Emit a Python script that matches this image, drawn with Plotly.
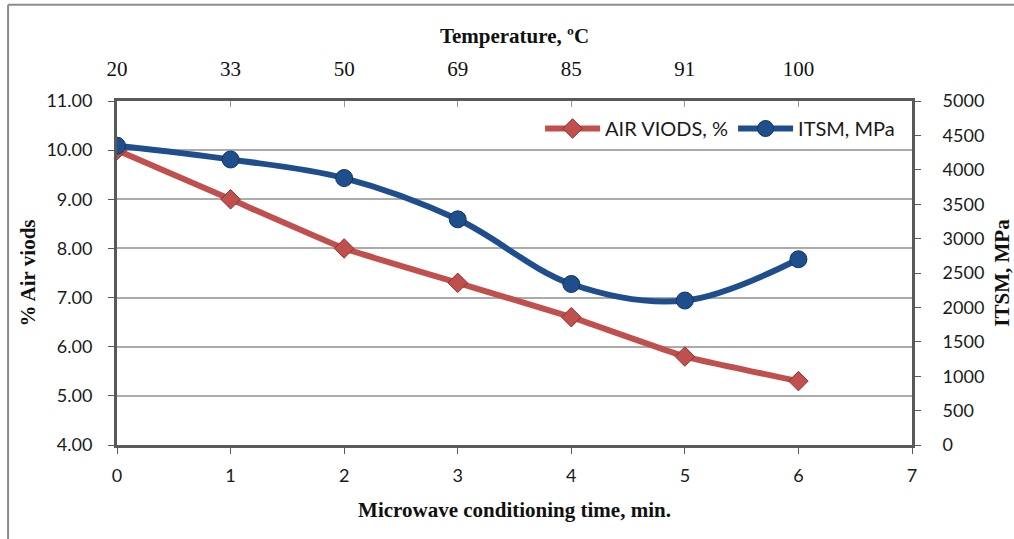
import plotly.graph_objects as go

# Microwave conditioning time (min) and matching temperatures (°C)
time_min = [0, 1, 2, 3, 4, 5, 6]
temperature_c = ["20", "33", "50", "69", "85", "91", "100"]

# Measured properties
air_voids_pct = [10.0, 9.0, 8.0, 7.3, 6.6, 5.8, 5.3]
itsm_mpa = [4350, 4150, 3880, 3280, 2340, 2100, 2700]

left_ticks = [4, 5, 6, 7, 8, 9, 10, 11]
right_ticks = [0, 500, 1000, 1500, 2000, 2500, 3000, 3500, 4000, 4500, 5000]

RED = "#C0504D"
BLUE = "#1F4E8C"
AXIS = "#595959"
GRID = "#ABABAB"
SANS = "Lato, Calibri, sans-serif"
SERIF = "Liberation Serif, Times New Roman, serif"

fig = go.Figure()

fig.add_trace(go.Scatter(
    x=time_min, y=air_voids_pct, name="AIR VIODS, %",
    mode="lines+markers",
    line=dict(color=RED, width=6, shape="spline", smoothing=0.3),
    marker=dict(symbol="diamond", size=15, color=RED,
                line=dict(color="#8E2F2C", width=1)),
    xaxis="x", yaxis="y",
))

fig.add_trace(go.Scatter(
    x=time_min, y=itsm_mpa, name="ITSM, MPa",
    mode="lines+markers",
    line=dict(color=BLUE, width=6, shape="spline", smoothing=1.0),
    marker=dict(symbol="circle", size=17, color=BLUE,
                line=dict(color="#123464", width=1)),
    xaxis="x", yaxis="y2",
))

# invisible trace carrying the temperature axis on top
fig.add_trace(go.Scatter(
    x=time_min, y=air_voids_pct, xaxis="x2", yaxis="y",
    mode="markers", marker=dict(opacity=0), showlegend=False, hoverinfo="skip",
))

fig.update_layout(
    width=1014, height=539,
    margin=dict(l=117, r=102, t=101, b=94),
    paper_bgcolor="white", plot_bgcolor="white",
    showlegend=True,
    legend=dict(
        orientation="h", x=0.985, xanchor="right", y=0.92, yanchor="middle",
        font=dict(family=SANS, size=20, color="#1a1a1a"),
        bgcolor="rgba(0,0,0,0)", itemwidth=55, tracegroupgap=0,
    ),
    xaxis=dict(
        range=[0, 7], tickvals=list(range(8)), ticktext=[str(v) for v in range(8)],
        showline=True, linecolor=AXIS, linewidth=3, mirror=False,
        ticks="outside", ticklen=6, tickcolor=AXIS, tickwidth=1,
        ticklabelstandoff=6, automargin=False,
        showgrid=False, zeroline=False,
        tickfont=dict(family=SANS, size=18, color="#1a1a1a"),
        title=dict(text="<b>Microwave conditioning time, min.</b>",
                   font=dict(family=SERIF, size=21, color="#111"), standoff=18),
    ),
    xaxis2=dict(
        overlaying="x", side="top", range=[0, 7],
        tickvals=time_min, ticktext=temperature_c,
        showline=True, linecolor=AXIS, linewidth=3,
        ticks="inside", ticklen=6, tickcolor="#9a9a9a", tickwidth=1,
        ticklabelstandoff=14, automargin=False,
        showgrid=False, zeroline=False,
        tickfont=dict(family=SERIF, size=21, color="#111"),
        title=dict(text="<b>Temperature, ºC</b>",
                   font=dict(family=SERIF, size=21, color="#111"), standoff=8),
    ),
    yaxis=dict(
        range=[4, 11], tickvals=left_ticks,
        ticktext=[f"{v:.2f}" for v in left_ticks],
        showline=True, linecolor=AXIS, linewidth=3,
        ticks="outside", ticklen=6, tickcolor=AXIS, tickwidth=1,
        ticklabelstandoff=12, automargin=False,
        showgrid=True, gridcolor=GRID, gridwidth=2, zeroline=False,
        tickfont=dict(family=SANS, size=18, color="#1a1a1a"),
        title=dict(text="<b>% Air viods</b>",
                   font=dict(family=SERIF, size=21, color="#111"), standoff=6),
    ),
    yaxis2=dict(
        overlaying="y", side="right", range=[0, 5000], tickvals=right_ticks,
        showline=True, linecolor=AXIS, linewidth=3,
        ticks="outside", ticklen=6, tickcolor=AXIS, tickwidth=1,
        ticklabelstandoff=18, automargin=False,
        showgrid=False, zeroline=False,
        tickfont=dict(family=SANS, size=18, color="#1a1a1a"),
        title=dict(text="<b>ITSM, MPa</b>",
                   font=dict(family=SERIF, size=21, color="#111"), standoff=14),
    ),
)

# thin frame along the top and left edges of the chart
fig.add_shape(type="line", xref="paper", yref="paper",
              x0=-0.137, x1=1.13, y0=1.28, y1=1.28,
              line=dict(color="#8c8c8c", width=2), layer="above")
fig.add_shape(type="line", xref="paper", yref="paper",
              x0=-0.137, x1=-0.137, y0=1.28, y1=-0.28,
              line=dict(color="#8c8c8c", width=2), layer="above")

fig.write_html("out.html")
